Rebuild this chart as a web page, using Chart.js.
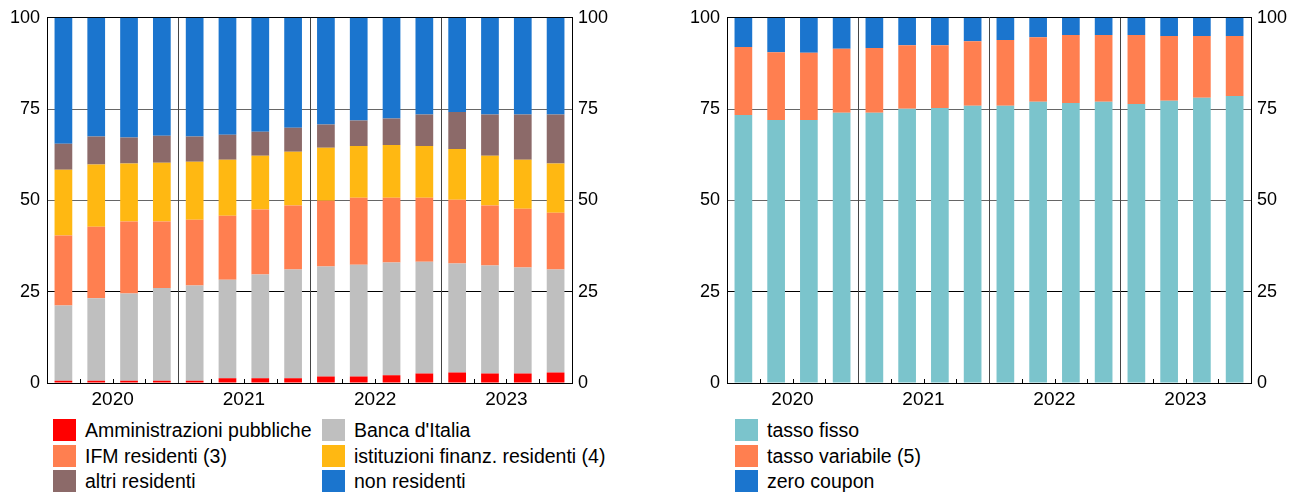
<!DOCTYPE html>
<html lang="it">
<head>
<meta charset="utf-8">
<title>Titoli di Stato</title>
<script src="https://cdn.jsdelivr.net/npm/chart.js@4.4.1/dist/chart.umd.min.js"></script>
<style>
  html, body { margin: 0; padding: 0; background: #fff; }
  #pagina { position: relative; width: 1301px; height: 494px; overflow: hidden; font-family: "Liberation Sans", Arial, sans-serif; color: #000; }
  .grafico { position: absolute; top: 0; height: 412px; }
  #sx { left: 0; width: 650px; }
  #dx { left: 650px; width: 651px; }
  .legenda { position: absolute; top: 419px; display: grid; grid-auto-rows: 25.5px; font-size: 19.5px; }
  #leg-sx { left: 53px; grid-template-columns: 269px auto; }
  #leg-dx { left: 735px; grid-template-columns: auto; }
  .voce { display: flex; align-items: flex-start; white-space: nowrap; }
  .quadrato { width: 23px; height: 22px; margin-right: 9px; flex: none; }
  .voce span { line-height: 23px; }
</style>
</head>
<body>
<div id="pagina">
  <div class="grafico" id="sx"><canvas id="detentori"></canvas></div>
  <div class="grafico" id="dx"><canvas id="tipologia"></canvas></div>
  <div class="legenda" id="leg-sx"></div>
  <div class="legenda" id="leg-dx"></div>
</div>
<script>
// dati

var anni = ["2020", "2021", "2022", "2023"];
var trimestri = ["2020 T1", "2020 T2", "2020 T3", "2020 T4",
                 "2021 T1", "2021 T2", "2021 T3", "2021 T4",
                 "2022 T1", "2022 T2", "2022 T3", "2022 T4",
                 "2023 T1", "2023 T2", "2023 T3", "2023 T4"];
var tickY = [0, 25, 50, 75, 100];

// pannello sinistro: detentori (quote percentuali)
var ammPubbliche = [0.6, 0.6, 0.6, 0.6, 0.6, 1.3, 1.3, 1.3, 1.8, 1.8, 2.1, 2.6, 2.9, 2.6, 2.6, 2.9];
var bancaItalia  = [20.6, 22.6, 23.9, 25.4, 26.1, 27.0, 28.4, 29.8, 30.1, 30.6, 30.9, 30.6, 29.8, 29.6, 29.0, 28.2];
var ifmResidenti = [19.2, 19.6, 19.7, 18.2, 18.0, 17.5, 17.8, 17.5, 18.0, 18.3, 17.7, 17.5, 17.5, 16.4, 16.1, 15.5];
var istFinanz    = [18.0, 17.0, 15.9, 16.1, 15.9, 15.3, 14.7, 14.7, 14.5, 14.2, 14.5, 14.2, 13.9, 13.6, 13.4, 13.5];
var altriRes     = [7.1, 7.7, 7.1, 7.4, 6.9, 6.9, 6.6, 6.6, 6.4, 7.0, 7.2, 8.6, 10.1, 11.3, 12.4, 13.4];
var nonResidenti = [34.5, 32.5, 32.8, 32.3, 32.5, 32.0, 31.2, 30.1, 29.2, 28.1, 27.6, 26.5, 25.8, 26.5, 26.5, 26.5];

// pannello destro: tipologia di tasso
var tassoFisso     = [73.4, 72.0, 72.0, 74.0, 74.0, 75.1, 75.3, 75.9, 75.9, 77.0, 76.7, 77.0, 76.4, 77.3, 78.1, 78.6];
var tassoVariabile = [18.6, 18.6, 18.4, 17.5, 17.7, 17.4, 17.2, 17.7, 18.0, 17.7, 18.6, 18.3, 18.9, 17.7, 16.9, 16.4];
var zeroCoupon     = [8.0, 9.4, 9.6, 8.5, 8.3, 7.5, 7.5, 6.4, 6.1, 5.3, 4.7, 4.7, 4.7, 5.0, 5.0, 5.0];

var nomiSx = ["Amministrazioni pubbliche", "Banca d'Italia", "IFM residenti (3)",
              "istituzioni finanz. residenti (4)", "altri residenti", "non residenti"];
var coloriSx = ["#ff0000", "#bfbfbf", "#ff7f50", "#ffb812", "#8c6a69", "#1b75ce"];
var nomiDx = ["tasso fisso", "tasso variabile (5)", "zero coupon"];
var coloriDx = ["#7bc4cc", "#ff7f50", "#1b75ce"];

var FONT = "'Liberation Sans', Arial, sans-serif";

// tacche corte tra i trimestri e separatori degli anni
var separatori = {
    id: "separatori",
    beforeDatasetsDraw: function (chart) {
        var x = chart.scales.x;
        var area = chart.chartArea;
        var ctx = chart.ctx;
        ctx.save();
        ctx.lineWidth = 1;
        for (var i = 1; i < trimestri.length; i++) {
            var px = Math.round((x.getPixelForValue(i - 1) + x.getPixelForValue(i)) / 2) + 0.5;
            ctx.beginPath();
            if (i % 4 == 0) {
                ctx.strokeStyle = "#444";
                ctx.moveTo(px, area.top);
            } else {
                ctx.strokeStyle = "#000";
                ctx.moveTo(px, area.bottom - 4);
            }
            ctx.lineTo(px, area.bottom);
            ctx.stroke();
        }
        ctx.restore();
    }
};

function creaDataset(nomi, colori, serie) {
    var ds = [];
    for (var i = 0; i < serie.length; i++) {
        ds.push({
            label: nomi[i],
            data: serie[i],
            backgroundColor: colori[i],
            borderWidth: 0,
            barPercentage: 0.54,
            categoryPercentage: 1.0
        });
    }
    return ds;
}

function creaGrafico(idCanvas, datasets, larghezzaSx, larghezzaDx) {
    var config = {
        type: "bar",
        data: { labels: trimestri, datasets: datasets },
        plugins: [separatori],
        options: {
            responsive: true,
            maintainAspectRatio: false,
            animation: false,
            layout: { padding: { top: 17, left: 0, right: 0, bottom: 0 } },
            plugins: { legend: { display: false }, tooltip: { enabled: false } },
            scales: {
                x: { stacked: true, display: false, offset: true },
                anni: {
                    type: "category",
                    labels: anni,
                    position: "bottom",
                    offset: true,
                    grid: { offset: true, display: false, drawTicks: false },
                    border: { display: true, color: "#000", width: 1 },
                    ticks: { color: "#000", font: { family: FONT, size: 19 }, padding: 5 },
                    afterFit: function (s) { s.height = 29; }
                },
                y: {
                    stacked: true,
                    min: 0,
                    max: 100,
                    afterBuildTicks: function (s) { s.ticks = tickY.map(function (v) { return { value: v }; }); },
                    grid: {
                        drawTicks: false,
                        color: function (c) {
                            var v = c.tick ? c.tick.value : 0;
                            if (v == 25 || v == 0 || v == 100) return "#000";
                            return "#666";
                        }
                    },
                    border: { display: true, color: "#000", width: 1 },
                    ticks: { color: "#000", font: { family: FONT, size: 18 }, padding: 7 },
                    afterFit: function (s) { s.width = larghezzaSx; }
                },
                y2: {
                    position: "right",
                    min: 0,
                    max: 100,
                    afterBuildTicks: function (s) { s.ticks = tickY.map(function (v) { return { value: v }; }); },
                    grid: { drawOnChartArea: false, drawTicks: false },
                    border: { display: true, color: "#000", width: 1 },
                    ticks: { color: "#000", font: { family: FONT, size: 18 }, padding: 6 },
                    afterFit: function (s) { s.width = larghezzaDx; }
                }
            }
        }
    };
    new Chart(document.getElementById(idCanvas).getContext("2d"), config);
}

function creaLegenda(idLegenda, nomi, colori) {
    var html = "";
    for (var i = 0; i < nomi.length; i++) {
        html += '<div class="voce"><div class="quadrato" style="background:' + colori[i] + '"></div><span>' + nomi[i] + '</span></div>';
    }
    document.getElementById(idLegenda).innerHTML = html;
}

creaGrafico("detentori",
    creaDataset(nomiSx, coloriSx, [ammPubbliche, bancaItalia, ifmResidenti, istFinanz, altriRes, nonResidenti]),
    47, 78);
creaGrafico("tipologia",
    creaDataset(nomiDx, coloriDx, [tassoFisso, tassoVariabile, zeroCoupon]),
    77, 50);

creaLegenda("leg-sx", nomiSx, coloriSx);
creaLegenda("leg-dx", nomiDx, coloriDx);
</script>
</body>
</html>
